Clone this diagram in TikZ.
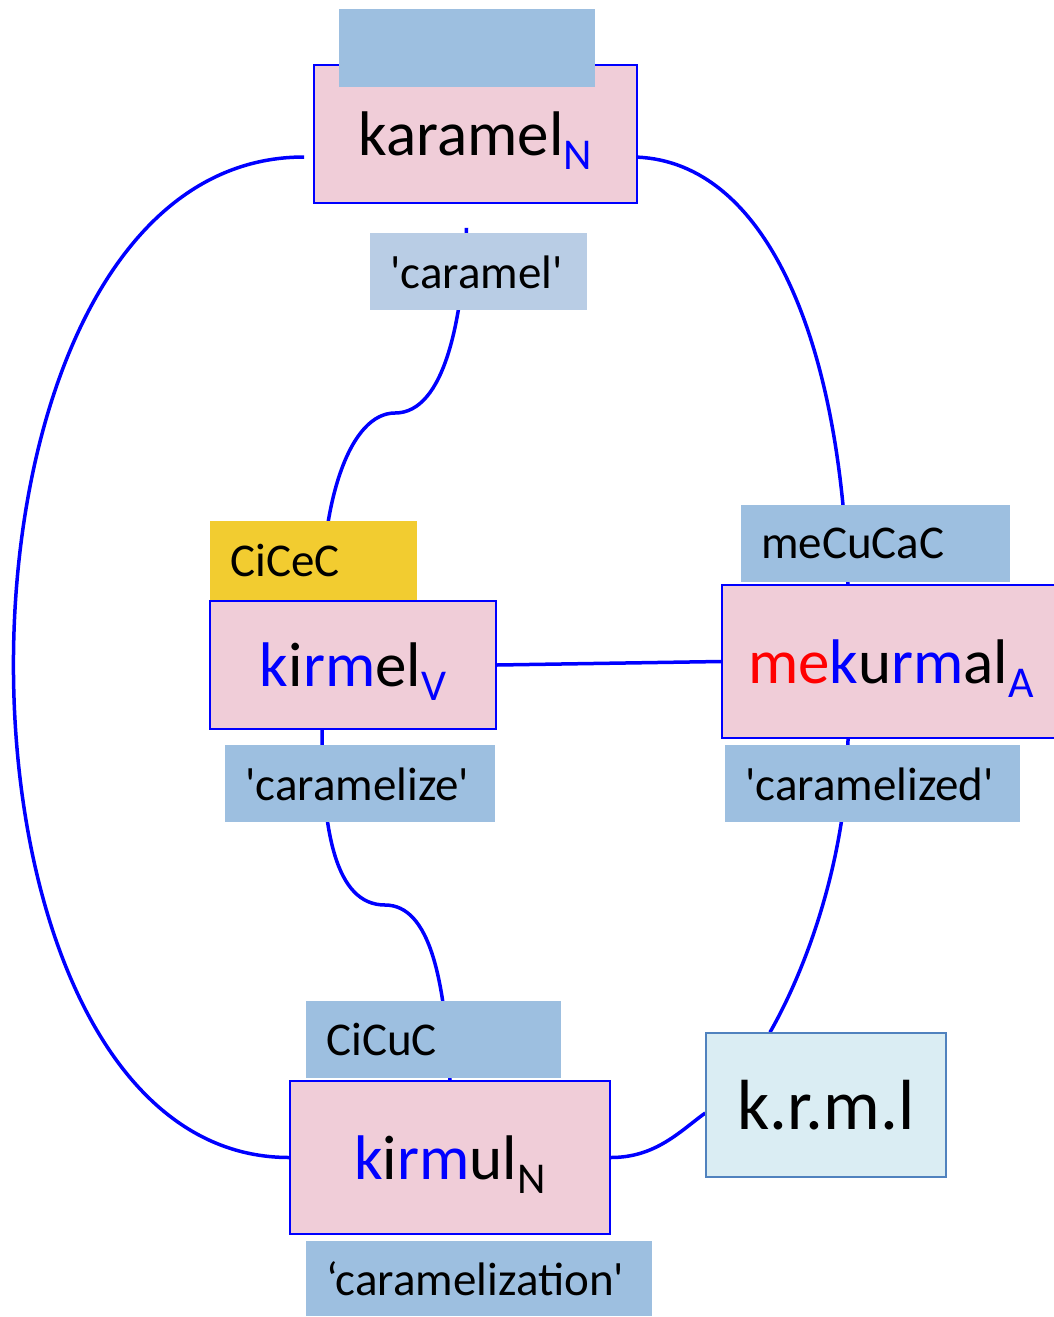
\documentclass[tikz,border=0pt]{standalone}
\usepackage{fontspec}
\setmainfont{Carlito}
\usetikzlibrary{backgrounds}
\definecolor{rose}{HTML}{F0CDD8}
\definecolor{tagblue}{HTML}{9DBFE0}
\definecolor{taglight}{HTML}{B9CDE5}
\definecolor{gold}{HTML}{F2CC30}
\definecolor{rootfill}{HTML}{DAEDF3}
\definecolor{rootline}{HTML}{5082BE}
\newcommand{\possub}[2][black]{\raisebox{-14pt}{\fontsize{44}{44}\selectfont\textcolor{#1}{#2}}}
\newcommand{\sq}{\textquotesingle}

\begin{document}
\begin{tikzpicture}[x=1pt, y=-1pt,
    wordbox/.style={draw=blue, line width=1.8pt, fill=rose, inner sep=0pt, text depth=0pt, font=\fontsize{63}{63}\selectfont},
    glossbox/.style={fill=tagblue, inner xsep=20pt, inner ysep=0pt, minimum height=77pt, text depth=0pt, anchor=north west, align=left, font=\fontsize{47}{47}\selectfont},
    rootbox/.style={draw=rootline, line width=1.5pt, fill=rootfill, inner sep=0pt, text depth=0pt, font=\fontsize{71}{71}\selectfont},
    linkline/.style={draw=blue, line width=3.5pt}
  ]
  \useasboundingbox (0,0) rectangle (1053,1317);

  % words
  \node[wordbox, minimum width=323pt, minimum height=138pt] (karamel) at (475.5,134) {karamel\possub[blue]{N}};
  \node[wordbox, minimum width=286pt, minimum height=128pt] (kirmel) at (353,665) {\textcolor{blue}{k}i\textcolor{blue}{rm}el\possub[blue]{V}};
  \node[wordbox, minimum width=338pt, minimum height=153pt] (mekurmal) at (891,661.5) {\textcolor{red}{me}\textcolor{blue}{k}u\textcolor{blue}{rm}al\possub[blue]{A}};
  \node[wordbox, minimum width=320pt, minimum height=153pt] (kirmul) at (450,1157.5) {\textcolor{blue}{k}i\textcolor{blue}{rm}ul\possub{N}};
  \node[rootbox, minimum width=240pt, minimum height=144pt] (krml) at (826,1105) {k.r.m.l};

  % patterns and glosses
  \node[glossbox, text width=216pt, minimum height=78pt] (tkaramel) at (339,9) {};
  \node[glossbox, fill=taglight, text width=177pt] (gkaramel) at (370,233) {\sq caramel\sq};
  \node[glossbox, fill=gold, text width=167pt, minimum height=79pt] (tkirmel) at (210,521) {CiCeC};
  \node[glossbox, text width=230pt] (gkirmel) at (225,745) {\sq caramelize\sq};
  \node[glossbox, text width=229pt] (tmekurmal) at (741,505) {meCuCaC};
  \node[glossbox, text width=255pt] (gmekurmal) at (725,745) {\sq caramelized\sq};
  \node[glossbox, text width=215pt] (tkirmul) at (306,1001) {CiCuC};
  \node[glossbox, text width=306pt, minimum height=75pt] (gkirmul) at (306,1241) {`caramelization\sq};

  \coordinate (bendtop) at (395,413);
  \coordinate (bendlow) at (385,905);

  % links
  \begin{scope}[on background layer]
    \draw[linkline] ([shift={(-9,23)}]karamel.west) .. controls +(-385,0) and +(-370,0) .. (kirmul.west);
    \draw[linkline] ([shift={(-7,23)}]karamel.east) .. controls +(130,0) and +(-8,-255) .. ([shift={(-43,0)}]mekurmal.north);
    \draw[linkline] ([shift={(-9,24)}]karamel.south) .. controls +(-4,90) and +(50,0) .. (bendtop)
      .. controls +(-45,0) and +(0,-100) .. ([shift={(-31,0)}]kirmel.north);
    \draw[linkline] (kirmel.east) -- (mekurmal.west);
    \draw[linkline] ([shift={(-31,0)}]kirmel.south) .. controls +(0,100) and +(-50,0) .. (bendlow)
      .. controls +(45,0) and +(-5,-100) .. (kirmul.north);
    \draw[linkline] ([shift={(-43,0)}]mekurmal.south) .. controls +(0,110) and +(40,-70) .. ([shift={(-56,0)}]krml.north);
    \draw[linkline] (kirmul.east) .. controls +(45,0) and +(-25,18) .. ([shift={(0,8)}]krml.west);
  \end{scope}
\end{tikzpicture}
\end{document}
